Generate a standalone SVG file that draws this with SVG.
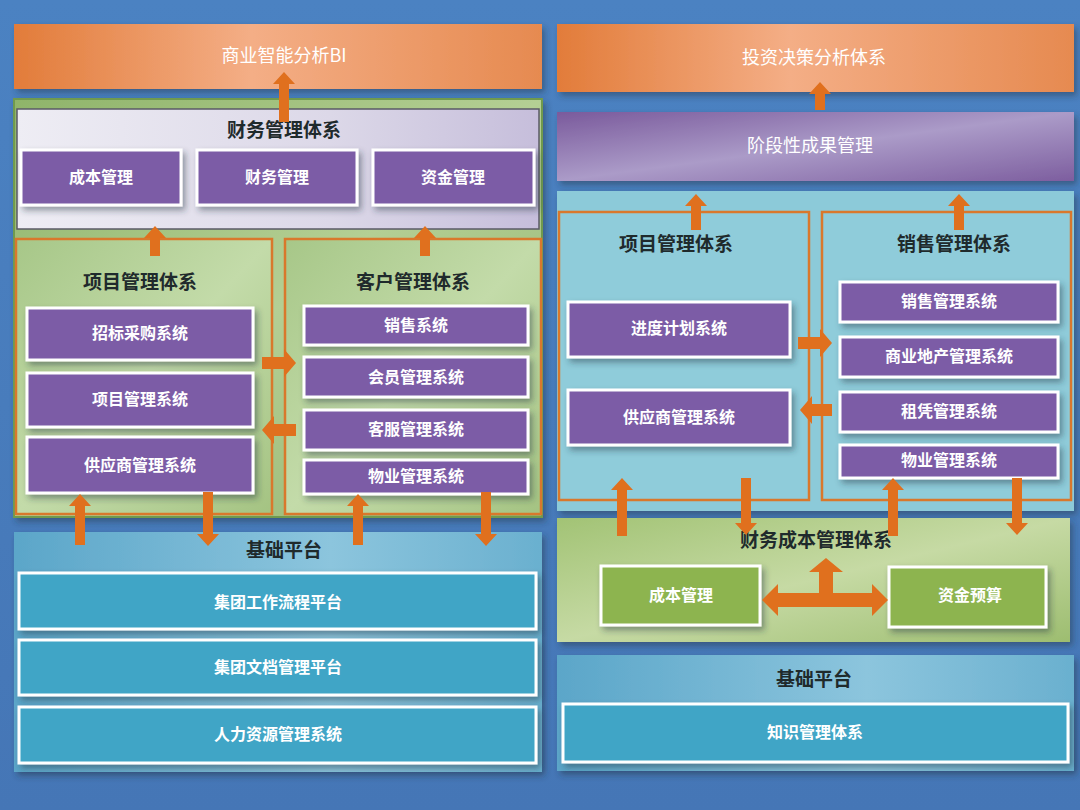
<svg xmlns="http://www.w3.org/2000/svg" width="1080" height="810" viewBox="0 0 1080 810">
<defs>
<linearGradient id="bg" x1="0" y1="0" x2="0" y2="1"><stop offset="0" stop-color="#4b82c2"/><stop offset="1" stop-color="#4576b6"/></linearGradient>
<linearGradient id="orange" x1="0" y1="0" x2="1" y2="0"><stop offset="0" stop-color="#e27c3a"/><stop offset="0.45" stop-color="#f4ae86"/><stop offset="1" stop-color="#e68a50"/></linearGradient>
<linearGradient id="greenPanel" x1="0" y1="0" x2="1" y2="1"><stop offset="0" stop-color="#8fb46a"/><stop offset="0.5" stop-color="#b4cf94"/><stop offset="1" stop-color="#8fb06a"/></linearGradient>
<linearGradient id="lav" x1="0" y1="0" x2="1" y2="0"><stop offset="0" stop-color="#eeedf4"/><stop offset="0.6" stop-color="#dcd8e8"/><stop offset="1" stop-color="#c6bedb"/></linearGradient>
<linearGradient id="innerGreen" x1="0" y1="0" x2="1" y2="1"><stop offset="0" stop-color="#a7c788"/><stop offset="0.5" stop-color="#c3dba9"/><stop offset="1" stop-color="#a4c382"/></linearGradient>
<linearGradient id="basePanel" x1="0" y1="0" x2="1" y2="0"><stop offset="0" stop-color="#5ba6c9"/><stop offset="0.6" stop-color="#8cc5dd"/><stop offset="1" stop-color="#6ab0cf"/></linearGradient>
<linearGradient id="purpleBand" x1="0" y1="0" x2="1" y2="1"><stop offset="0" stop-color="#7a5a9c"/><stop offset="0.5" stop-color="#ab9bc8"/><stop offset="1" stop-color="#7d5e9f"/></linearGradient>
<linearGradient id="greenBand" x1="0" y1="0" x2="1" y2="1"><stop offset="0" stop-color="#a2c375"/><stop offset="0.5" stop-color="#c6daa4"/><stop offset="1" stop-color="#9dbd70"/></linearGradient>
<filter id="sh" x="-10%" y="-20%" width="130%" height="160%"><feDropShadow dx="3" dy="4" stdDeviation="3" flood-color="#203040" flood-opacity="0.45"/></filter>
<style>
.title{font-family:"Noto Sans CJK SC","Noto Sans",sans-serif;font-weight:bold;font-size:19px;fill:#1f2a2c;text-anchor:middle;dominant-baseline:central}
.wt{font-family:"Noto Sans CJK SC","Noto Sans",sans-serif;font-size:18px;fill:#ffffff;text-anchor:middle;dominant-baseline:central}
.lbl{font-family:"Noto Sans CJK SC","Noto Sans",sans-serif;font-weight:bold;font-size:16px;fill:#ffffff;text-anchor:middle;dominant-baseline:central}
.pbox{fill:#7b5ca6;stroke:#ffffff;stroke-width:3;filter:url(#sh)}
.tbox{fill:#3fa5c6;stroke:#ffffff;stroke-width:3;filter:url(#sh)}
.gbox{fill:#8db44f;stroke:#ffffff;stroke-width:3;filter:url(#sh)}
.sub{stroke:#d9782c;stroke-width:2.5}
.arr{fill:#e0701e}
</style>
</defs>
<rect width="1080" height="810" fill="url(#bg)"/>

<!-- LEFT COLUMN -->
<g id="bi"><rect x="14" y="24" width="528" height="65" fill="url(#orange)" filter="url(#sh)"/><text class="wt" x="284" y="54">商业智能分析BI</text></g>
<g id="leftGreenPanel"><rect x="14" y="99" width="528" height="418" fill="url(#greenPanel)" stroke="#6f9a4e" stroke-width="2" filter="url(#sh)"/></g>
<g id="finance"><rect x="17" y="109" width="522" height="120" fill="url(#lav)" stroke="#5a5a66" stroke-width="1.5"/><text class="title" x="284" y="128">财务管理体系</text></g>
<g id="f-cost"><rect class="pbox" x="21" y="150" width="160" height="55"/><text class="lbl" x="101" y="176">成本管理</text></g>
<g id="f-fin"><rect class="pbox" x="197" y="150" width="160" height="55"/><text class="lbl" x="277" y="176">财务管理</text></g>
<g id="f-fund"><rect class="pbox" x="373" y="150" width="161" height="55"/><text class="lbl" x="453" y="176">资金管理</text></g>

<g id="projL"><rect class="sub" x="16" y="239" width="256" height="275" fill="url(#innerGreen)"/><text class="title" x="140" y="280">项目管理体系</text></g>
<g id="pl-1"><rect class="pbox" x="27" y="308" width="226" height="52"/><text class="lbl" x="140" y="332">招标采购系统</text></g>
<g id="pl-2"><rect class="pbox" x="27" y="373" width="226" height="54"/><text class="lbl" x="140" y="398">项目管理系统</text></g>
<g id="pl-3"><rect class="pbox" x="27" y="437" width="226" height="56"/><text class="lbl" x="140" y="464">供应商管理系统</text></g>

<g id="custL"><rect class="sub" x="285" y="239" width="256" height="275" fill="url(#innerGreen)"/><text class="title" x="413" y="280">客户管理体系</text></g>
<g id="cl-1"><rect class="pbox" x="304" y="306" width="224" height="39"/><text class="lbl" x="416" y="324">销售系统</text></g>
<g id="cl-2"><rect class="pbox" x="304" y="357" width="224" height="40"/><text class="lbl" x="416" y="376">会员管理系统</text></g>
<g id="cl-3"><rect class="pbox" x="304" y="410" width="224" height="40"/><text class="lbl" x="416" y="428">客服管理系统</text></g>
<g id="cl-4"><rect class="pbox" x="304" y="460" width="224" height="34"/><text class="lbl" x="416" y="475">物业管理系统</text></g>

<g id="baseL"><rect x="14" y="532" width="528" height="240" fill="url(#basePanel)" filter="url(#sh)"/><text class="title" x="284" y="548">基础平台</text></g>
<g id="bl-1"><rect class="tbox" x="19" y="573" width="517" height="56"/><text class="lbl" x="278" y="601">集团工作流程平台</text></g>
<g id="bl-2"><rect class="tbox" x="19" y="640" width="517" height="55"/><text class="lbl" x="278" y="666">集团文档管理平台</text></g>
<g id="bl-3"><rect class="tbox" x="19" y="707" width="517" height="56"/><text class="lbl" x="278" y="733">人力资源管理系统</text></g>

<!-- RIGHT COLUMN -->
<g id="invest"><rect x="557" y="24" width="517" height="68" fill="url(#orange)" filter="url(#sh)"/><text class="wt" x="814" y="56">投资决策分析体系</text></g>
<g id="stage"><rect x="557" y="112" width="517" height="69" fill="url(#purpleBand)" filter="url(#sh)"/><text class="wt" x="810" y="144">阶段性成果管理</text></g>
<g id="rightBluePanel"><rect x="557" y="191" width="517" height="320" fill="#8ccad9" filter="url(#sh)"/></g>
<g id="projR"><rect class="sub" x="559" y="212" width="250" height="288" fill="#8fccda"/><text class="title" x="676" y="242">项目管理体系</text></g>
<g id="pr-1"><rect class="pbox" x="568" y="302" width="222" height="55"/><text class="lbl" x="679" y="327">进度计划系统</text></g>
<g id="pr-2"><rect class="pbox" x="568" y="390" width="222" height="55"/><text class="lbl" x="679" y="416">供应商管理系统</text></g>
<g id="salesR"><rect class="sub" x="822" y="212" width="249" height="288" fill="#8fccda"/><text class="title" x="954" y="242">销售管理体系</text></g>
<g id="sr-1"><rect class="pbox" x="840" y="282" width="218" height="40"/><text class="lbl" x="949" y="300">销售管理系统</text></g>
<g id="sr-2"><rect class="pbox" x="840" y="337" width="218" height="40"/><text class="lbl" x="949" y="355">商业地产管理系统</text></g>
<g id="sr-3"><rect class="pbox" x="840" y="392" width="218" height="40"/><text class="lbl" x="949" y="410">租凭管理系统</text></g>
<g id="sr-4"><rect class="pbox" x="840" y="445" width="218" height="33"/><text class="lbl" x="949" y="459">物业管理系统</text></g>

<g id="finCost"><rect x="557" y="518" width="513" height="124" fill="url(#greenBand)" filter="url(#sh)"/><text class="title" x="816" y="538">财务成本管理体系</text></g>
<g id="fc-1"><rect class="gbox" x="601" y="566" width="159" height="59"/><text class="lbl" x="681" y="594">成本管理</text></g>
<g id="fc-2"><rect class="gbox" x="889" y="567" width="157" height="60"/><text class="lbl" x="970" y="594">资金预算</text></g>

<g id="baseR"><rect x="557" y="655" width="517" height="116" fill="url(#basePanel)" filter="url(#sh)"/><text class="title" x="814" y="677">基础平台</text></g>
<g id="br-1"><rect class="tbox" x="563" y="704" width="505" height="58"/><text class="lbl" x="815" y="731">知识管理体系</text></g>

<!-- CONNECTORS -->
<g id="connectors">
<polygon class="arr" points="279,122 279,84 273,84 284,72 295,84 289,84 289,122"/>
<polygon class="arr" points="150,256 150,238 144,238 155,226 166,238 160,238 160,256"/>
<polygon class="arr" points="420,256 420,238 414,238 425,226 436,238 430,238 430,256"/>
<polygon class="arr" points="262,357 284,357 284,349 296,363 284,377 284,369 262,369"/>
<polygon class="arr" points="296,424 274,424 274,416 262,430 274,444 274,436 296,436"/>
<polygon class="arr" points="75,545 75,506 69,506 80,494 91,506 85,506 85,545"/>
<polygon class="arr" points="203,492 203,534 197,534 208,546 219,534 213,534 213,492"/>
<polygon class="arr" points="353,545 353,506 347,506 358,494 369,506 363,506 363,545"/>
<polygon class="arr" points="481,492 481,534 475,534 486,546 497,534 491,534 491,492"/>

<polygon class="arr" points="815,110 815,94 809,94 820,82 831,94 825,94 825,110"/>
<polygon class="arr" points="691,230 691,206 685,206 696,194 707,206 701,206 701,230"/>
<polygon class="arr" points="954,230 954,206 948,206 959,194 970,206 964,206 964,230"/>
<polygon class="arr" points="798,337 820,337 820,329 832,343 820,357 820,349 798,349"/>
<polygon class="arr" points="832,404 812,404 812,396 800,410 812,424 812,416 832,416"/>
<polygon class="arr" points="617,536 617,490 611,490 622,478 633,490 627,490 627,536"/>
<polygon class="arr" points="741,478 741,523 735,523 746,535 757,523 751,523 751,478"/>
<polygon class="arr" points="888,536 888,490 882,490 893,478 904,490 898,490 898,536"/>
<polygon class="arr" points="1012,478 1012,523 1006,523 1017,535 1028,523 1022,523 1022,478"/>
<polygon class="arr" points="762,600 778,584 778,593 819,593 819,572 809,572 826,558 843,572 833,572 833,593 872,593 872,584 888,600 872,616 872,607 778,607 778,616"/>
</g>
</svg>
